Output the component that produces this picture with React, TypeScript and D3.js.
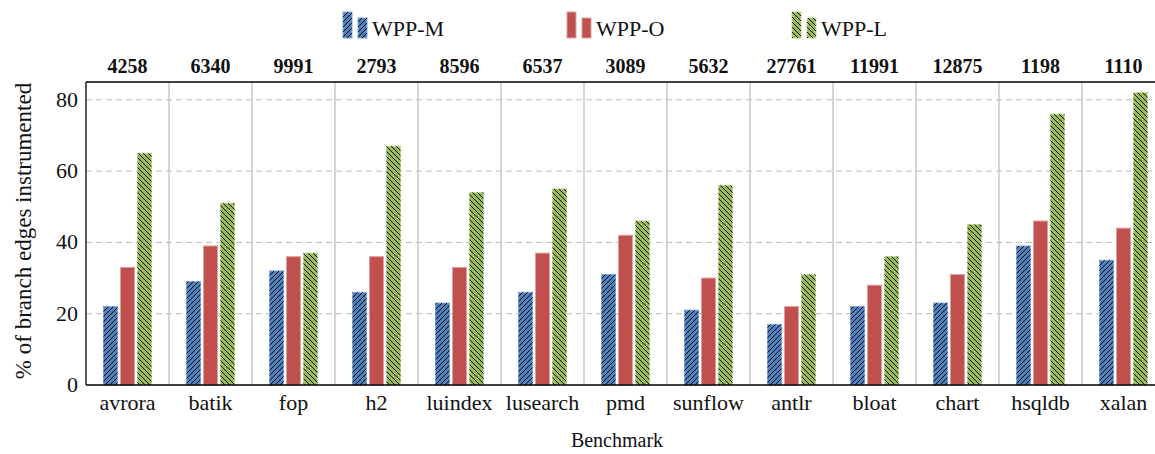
import React from "react";
import * as d3 from "d3";

const categories = ["avrora", "batik", "fop", "h2", "luindex", "lusearch", "pmd", "sunflow", "antlr", "bloat", "chart", "hsqldb", "xalan"];
const topLabels = ["4258", "6340", "9991", "2793", "8596", "6537", "3089", "5632", "27761", "11991", "12875", "1198", "1110"];
const wppM = [22, 29, 32, 26, 23, 26, 31, 21, 17, 22, 23, 39, 35];
const wppO = [33, 39, 36, 36, 33, 37, 42, 30, 22, 28, 31, 46, 44];
const wppL = [65, 51, 37, 67, 54, 55, 46, 56, 31, 36, 45, 76, 82];
const yTicks = [0, 20, 40, 60, 80];
const seriesNames = ["WPP-M", "WPP-O", "WPP-L"];
const seriesData = [wppM, wppO, wppL];
const colors = ["#4f81bd", "#c0504d", "#9bbb59"];
const strokes = ["#8aaad6", "#e0a09e", "#c2d89a"];
const patterns = ["url(#hatchNE)", null, "url(#hatchNW)"];

const W = 1155, H = 454;
const left = 86, top = 82, bottom = 385;
const groupW = 83;
const font = "'Liberation Serif', 'DejaVu Serif', serif";

export default function App() {
  const x = d3.scaleBand<string>().domain(categories).range([left, left + groupW * categories.length]).padding(0);
  const y = d3.scaleLinear().domain([0, 85]).range([bottom, top]);
  const barW = 14;
  const step = 17;
  return (
    <svg width={W} height={H} style={{ position: "absolute", left: 0, top: 0, background: "#fff" }}>
      <defs>
        <pattern id="hatchNE" patternUnits="userSpaceOnUse" width="5" height="5">
          <path d="M-1,1 l2,-2 M0,5 l5,-5 M4,6 l2,-2" stroke="#000" strokeWidth="0.9" />
        </pattern>
        <pattern id="hatchNW" patternUnits="userSpaceOnUse" width="5" height="5">
          <path d="M-1,4 l2,2 M0,0 l5,5 M4,-1 l2,2" stroke="#000" strokeWidth="0.9" />
        </pattern>
      </defs>
      {yTicks.filter(t => t > 0).map(t => (
        <line key={t} x1={left} x2={W} y1={y(t)} y2={y(t)} stroke="#bbb" strokeDasharray="6,4" strokeWidth={1} />
      ))}
      {categories.slice(1).map(c => (
        <line key={c} x1={x(c)!} x2={x(c)!} y1={top} y2={bottom} stroke="#bbb" strokeWidth={1.2} />
      ))}
      {categories.map((c, i) => {
        const cx = x(c)! + x.bandwidth() / 2;
        return seriesData.map((s, k) => {
          const bx = cx + (k - 1) * step - barW / 2;
          const by = y(s[i]);
          return (
            <g key={c + k}>
              <rect x={bx} y={by} width={barW} height={bottom - by} fill={colors[k]} stroke={strokes[k]} strokeWidth={1} />
              {patterns[k] && <rect x={bx} y={by} width={barW} height={bottom - by} fill={patterns[k]!} />}
            </g>
          );
        });
      })}
      <line x1={left} x2={W} y1={top} y2={top} stroke="#000" strokeWidth={1.3} />
      <line x1={left} x2={W} y1={bottom} y2={bottom} stroke="#000" strokeWidth={1.3} />
      <line x1={left} x2={left} y1={top} y2={bottom} stroke="#000" strokeWidth={1.3} />
      {yTicks.map(t => (
        <text key={t} x={78} y={y(t) + 7} textAnchor="end" fontFamily={font} fontSize={22} fill="#111">{t}</text>
      ))}
      {categories.map(c => (
        <text key={c} x={x(c)! + x.bandwidth() / 2} y={410} textAnchor="middle" fontFamily={font} fontSize={22} fill="#111">{c}</text>
      ))}
      {categories.map((c, i) => (
        <text key={c} x={x(c)! + x.bandwidth() / 2} y={73} textAnchor="middle" fontFamily={font} fontSize={20} fontWeight="bold" fill="#111">{topLabels[i]}</text>
      ))}
      <text x={617} y={447} textAnchor="middle" fontFamily={font} fontSize={20} fill="#111">Benchmark</text>
      <text transform={`translate(31,231) rotate(-90)`} textAnchor="middle" fontFamily={font} fontSize={23} fill="#111">% of branch edges instrumented</text>
      {seriesNames.map((n, k) => {
        const lx = [343, 567, 792][k];
        return (
          <g key={n}>
            <rect x={lx} y={12} width={9} height={26} fill={colors[k]} stroke={strokes[k]} />
            {patterns[k] && <rect x={lx} y={12} width={9} height={26} fill={patterns[k]!} />}
            <rect x={lx + 15} y={18} width={9} height={20} fill={colors[k]} stroke={strokes[k]} />
            {patterns[k] && <rect x={lx + 15} y={18} width={9} height={20} fill={patterns[k]!} />}
            <text x={lx + 29} y={36} fontFamily={font} fontSize={22} fill="#111">{n}</text>
          </g>
        );
      })}
    </svg>
  );
}
